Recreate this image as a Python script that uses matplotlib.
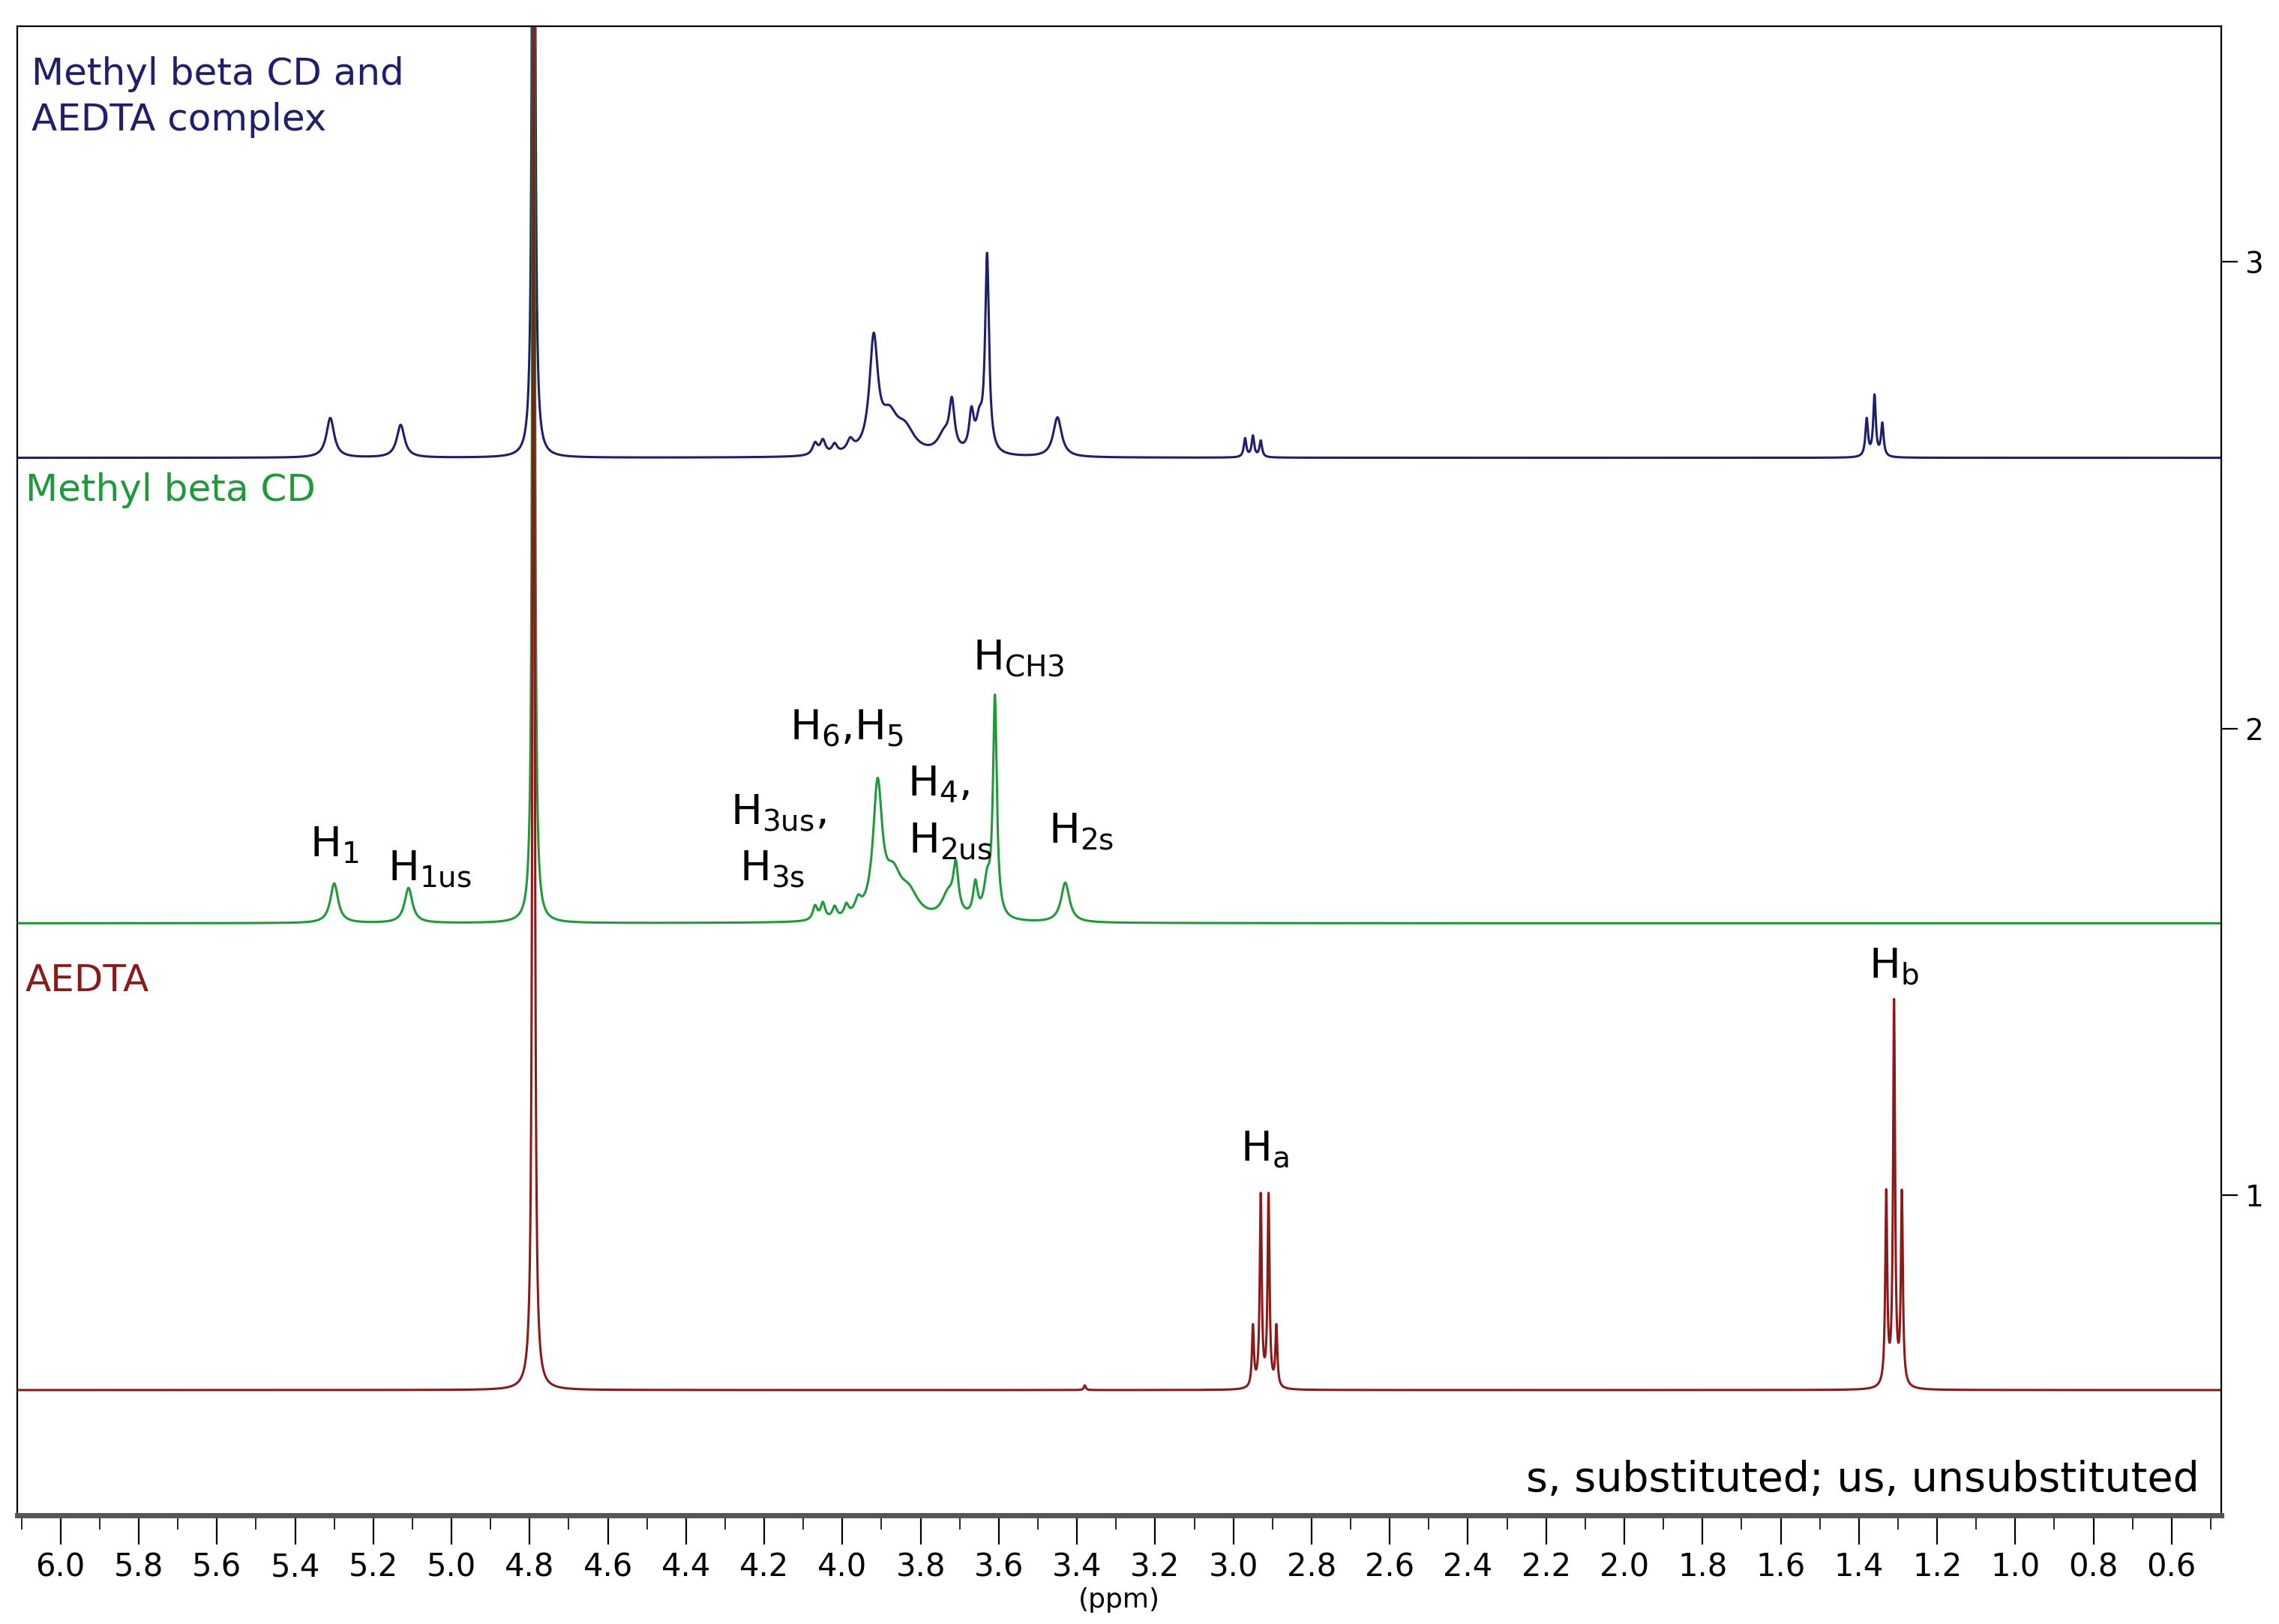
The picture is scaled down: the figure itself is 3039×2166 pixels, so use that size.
import numpy as np
import matplotlib
matplotlib.use("Agg")
import matplotlib.pyplot as plt
from matplotlib.ticker import MultipleLocator

# peak lists: centre (ppm), height (above baseline), half width (ppm)
complex_base = 2.58
complex_pos = [5.31, 5.13, 4.79, 4.07, 4.05, 4.02, 3.98, 3.92, 3.88, 3.84, 3.74, 3.72, 3.67, 3.65, 3.63, 3.45, 2.97, 2.95, 2.93, 1.38, 1.36, 1.34]
complex_hgt = [0.085, 0.07, 3.5, 0.025, 0.03, 0.02, 0.025, 0.24, 0.07, 0.05, 0.04, 0.1, 0.08, 0.06, 0.42, 0.085, 0.04, 0.045, 0.035, 0.08, 0.13, 0.07]
complex_wid = [0.012, 0.012, 0.0028, 0.008, 0.008, 0.008, 0.01, 0.013, 0.025, 0.03, 0.02, 0.008, 0.007, 0.01, 0.006, 0.013, 0.004, 0.004, 0.004, 0.004, 0.004, 0.004]

cd_base = 1.583
cd_pos = [5.30, 5.11, 4.79, 4.07, 4.05, 4.02, 3.99, 3.96, 3.91, 3.87, 3.83, 3.73, 3.71, 3.66, 3.63, 3.61, 3.43]
cd_hgt = [0.085, 0.075, 3.5, 0.03, 0.035, 0.025, 0.025, 0.03, 0.28, 0.08, 0.05, 0.05, 0.1, 0.07, 0.07, 0.47, 0.085]
cd_wid = [0.012, 0.012, 0.0028, 0.007, 0.007, 0.007, 0.007, 0.01, 0.014, 0.025, 0.03, 0.02, 0.008, 0.007, 0.01, 0.006, 0.013]

aedta_base = 0.583
aedta_pos = [4.79, 3.38, 2.95, 2.93, 2.91, 2.89, 1.33, 1.31, 1.29]
aedta_hgt = [3.5, 0.01, 0.13, 0.41, 0.41, 0.13, 0.41, 0.82, 0.41]
aedta_wid = [0.0028, 0.003, 0.003, 0.003, 0.003, 0.003, 0.003, 0.003, 0.003]

NAVY = "#1F1F6E"
GREEN = "#1E9A3A"
RED = "#8B1A1A"

x = np.linspace(6.11, 0.474, 16000)


def spectrum(base, pos, hgt, wid):
    y = np.full_like(x, base)
    for p, h, w in zip(pos, hgt, wid):
        y += h * w**2 / ((x - p)**2 + w**2)
    return y


fig = plt.figure(figsize=(15.195, 10.83), dpi=200)
ax = fig.add_axes([0.0077, 0.067, 0.9668, 0.917])

ax.plot(x, spectrum(complex_base, complex_pos, complex_hgt, complex_wid), color=NAVY, lw=1.1)
ax.plot(x, spectrum(cd_base, cd_pos, cd_hgt, cd_wid), color=GREEN, lw=1.1)
ax.plot(x, spectrum(aedta_base, aedta_pos, aedta_hgt, aedta_wid), color=RED, lw=1.1)

ax.set_xlim(6.11, 0.474)
ax.set_ylim(0.315, 3.505)
ax.xaxis.set_major_locator(MultipleLocator(0.2))
ax.xaxis.set_minor_locator(MultipleLocator(0.1))
ax.xaxis.set_major_formatter(matplotlib.ticker.FormatStrFormatter("%.1f"))
ax.tick_params(axis="x", which="major", length=14, labelsize=15, direction="out")
ax.tick_params(axis="x", which="minor", length=7, direction="out")
ax.set_xlabel("(ppm)", fontsize=13, labelpad=2)
ax.yaxis.tick_right()
ax.set_yticks([1, 2, 3])
ax.tick_params(axis="y", length=8, labelsize=14)
ax.spines["bottom"].set_linewidth(2.5)
ax.spines["bottom"].set_color("#555555")
for s in ["top", "left", "right"]:
    ax.spines[s].set_linewidth(0.8)

# trace names
ax.text(6.075, 3.44, "Methyl beta CD and\nAEDTA complex", color=NAVY, fontsize=18, va="top", linespacing=1.35)
ax.text(6.09, 2.51, "Methyl beta CD", color=GREEN, fontsize=18, va="center")
ax.text(6.09, 1.46, "AEDTA", color=RED, fontsize=18, va="center")

# peak assignments
lab = dict(fontsize=20, ha="center", va="center")
ax.text(5.30, 1.75, r"H$_1$", **lab)
ax.text(5.055, 1.70, r"H$_{\mathrm{1us}}$", **lab)
ax.text(4.165, 1.82, r"H$_{\mathrm{3us}}$,", **lab)
ax.text(4.18, 1.70, r"H$_{\mathrm{3s}}$", **lab)
ax.text(3.99, 2.0, r"H$_6$,H$_5$", **lab)
ax.text(3.755, 1.88, r"H$_4$,", **lab)
ax.text(3.725, 1.76, r"H$_{\mathrm{2us}}$", **lab)
ax.text(3.55, 2.15, r"H$_{\mathrm{CH3}}$", **lab)
ax.text(3.39, 1.78, r"H$_{\mathrm{2s}}$", **lab)
ax.text(2.92, 1.10, r"H$_\mathrm{a}$", **lab)
ax.text(1.31, 1.49, r"H$_\mathrm{b}$", **lab)

ax.text(0.53, 0.39, "s, substituted; us, unsubstituted", fontsize=20, ha="right", va="center")

fig.savefig("out.png", dpi=200, facecolor="white")
